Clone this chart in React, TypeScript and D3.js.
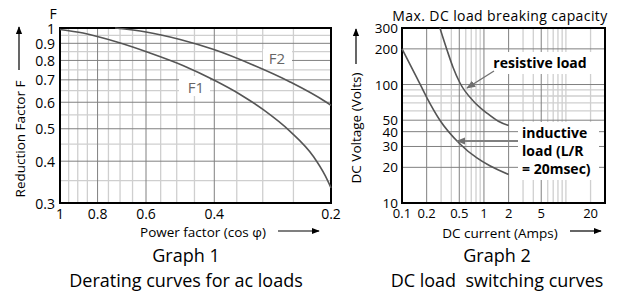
import * as d3 from "d3";
import React from "react";

// Graph 1: derating curves (power factor vs reduction factor)
const pfTicks = [1, 0.8, 0.6, 0.4, 0.2];
const pfMinor = [0.95, 0.9, 0.85, 0.75, 0.7, 0.65, 0.55, 0.5, 0.45, 0.35, 0.3, 0.25];
const fTicks = [0.3, 0.4, 0.5, 0.6, 0.7, 0.8, 0.9, 1];
const fMinor = [0.95, 0.85, 0.75, 0.65, 0.55, 0.45, 0.35];
const f1PF = [1, 0.872, 0.713, 0.586, 0.482, 0.401, 0.343, 0.299, 0.255, 0.222, 0.207, 0.2];
const f1Val = [0.99, 0.966, 0.908, 0.842, 0.773, 0.699, 0.633, 0.57, 0.491, 0.413, 0.362, 0.333];
const f2PF = [0.721, 0.6, 0.49, 0.401, 0.32, 0.255, 0.207, 0.2];
const f2Val = [1, 0.973, 0.924, 0.862, 0.778, 0.69, 0.603, 0.587];

// Graph 2: DC load breaking capacity
const ampTicks = [0.1, 0.2, 0.5, 1, 2, 5, 20];
const ampMajor = [0.2, 0.5, 1, 2, 5];
const ampMinor = [0.3, 0.4, 0.6, 0.7, 0.8, 0.9, 3, 4, 6, 7, 8, 9, 10, 20];
const voltTicks = [10, 20, 30, 40, 50, 100, 200, 300];
const voltMajor = [20, 30, 40, 50, 100, 200];
const voltMinor = [60, 70, 80, 90];
const resAmps = [0.29, 0.354, 0.419, 0.51, 0.75, 1.1, 1.5, 2];
const resVolts = [300, 196, 140, 103, 72, 57, 49, 45];
const indAmps = [0.1, 0.152, 0.2, 0.29, 0.51, 0.82, 1.18, 2];
const indVolts = [200, 114, 78, 50, 31.5, 24, 20.6, 17.4];

const font = "'Open Sans', 'Noto Sans', sans-serif";

export default function App() {
    // graph 1 frame
    const g1 = {left: 60, right: 331, top: 28, bottom: 203};
    const x1 = d3.scaleLog().domain([1, 0.2]).range([g1.left, g1.right]);
    const y1 = d3.scaleLog().domain([0.3, 1]).range([g1.bottom, g1.top]);

    // graph 2 frame
    const g2 = {left: 402, right: 605, top: 28, bottom: 203};
    const x2 = d3.scaleLog().domain([0.1, 30]).range([g2.left, g2.right]);
    const y2 = d3.scaleLog().domain([10, 300]).range([g2.bottom, g2.top]);

    // builds a smooth path from two parallel arrays
    const mk = (xs: number[], ys: number[], sx: any, sy: any) =>
        d3.line<[number, number]>()
            .x(d => sx(d[0]))
            .y(d => sy(d[1]))
            .curve(d3.curveMonotoneX)(xs.map((v, i) => [v, ys[i]]) as [number, number][]) || "";

    const minorC = "#cfcfcf";
    const majorC = "#808080";

    return (
        <svg width={623} height={291} style={{position: "absolute", left: 0, top: 0, background: "#fff"}}
             fontFamily={font}>
            <defs>
                <marker id="ah" viewBox="0 0 10 10" refX="9" refY="5" markerWidth="8" markerHeight="8"
                        orient="auto" markerUnits="userSpaceOnUse">
                    <path d="M0,1 L10,5 L0,9 Z" fill="#000"/>
                </marker>
                <marker id="ahg" viewBox="0 0 10 10" refX="9" refY="5" markerWidth="9" markerHeight="9"
                        orient="auto" markerUnits="userSpaceOnUse">
                    <path d="M0,1 L10,5 L0,9 Z" fill="#707070"/>
                </marker>
            </defs>

            {/* ---------- Graph 1 ---------- */}
            <g>
                {pfMinor.map(v => (
                    <line key={"pm" + v} x1={x1(v)} x2={x1(v)} y1={g1.top} y2={g1.bottom}
                          stroke={minorC} strokeWidth={1.3}/>
                ))}
                {fMinor.map(v => (
                    <line key={"fm" + v} x1={g1.left} x2={g1.right} y1={y1(v)} y2={y1(v)}
                          stroke={minorC} strokeWidth={1.3}/>
                ))}
                {pfTicks.slice(1, -1).map(v => (
                    <line key={"pM" + v} x1={x1(v)} x2={x1(v)} y1={g1.top} y2={g1.bottom}
                          stroke={majorC} strokeWidth={1}/>
                ))}
                {fTicks.slice(1, -1).map(v => (
                    <line key={"fM" + v} x1={g1.left} x2={g1.right} y1={y1(v)} y2={y1(v)}
                          stroke={majorC} strokeWidth={1}/>
                ))}
                <rect x={g1.left} y={g1.top} width={g1.right - g1.left} height={g1.bottom - g1.top}
                      fill="none" stroke="#000" strokeWidth={2}/>

                {/* curve labels with white boxes */}
                <rect x={179} y={76} width={31} height={20} fill="#fff"/>
                <text x={196} y={87} textAnchor="middle" dominantBaseline="central" fontSize={15}
                      fill="#666">F1</text>
                <rect x={263} y={49} width={29} height={19} fill="#fff"/>
                <text x={277} y={58} textAnchor="middle" dominantBaseline="central" fontSize={15}
                      fill="#666">F2</text>

                <path d={mk(f1PF, f1Val, x1, y1)} fill="none" stroke="#555" strokeWidth={1.6}/>
                <path d={mk(f2PF, f2Val, x1, y1)} fill="none" stroke="#555" strokeWidth={1.6}/>

                {fTicks.map(v => (
                    <text key={"ft" + v} x={55} y={y1(v)} textAnchor="end" dominantBaseline="central"
                          fontSize={14}>{v}</text>
                ))}
                {pfTicks.map(v => (
                    <text key={"pt" + v} x={x1(v)} y={213} textAnchor="middle" dominantBaseline="central"
                          fontSize={14}>{v}</text>
                ))}
                <text x={53} y={13} textAnchor="middle" dominantBaseline="central" fontSize={14}>F</text>

                <text transform="translate(20,139) rotate(-90)" textAnchor="middle" dominantBaseline="central"
                      fontSize={13.5}>Reduction Factor F</text>
                <line x1={19} y1={70} x2={19} y2={27} stroke="#000" strokeWidth={1.2} markerEnd="url(#ah)"/>

                <text x={203} y={232} textAnchor="middle" dominantBaseline="central" fontSize={13.5}>
                    Power factor (cos φ)</text>
                <line x1={278} y1={231} x2={319} y2={231} stroke="#000" strokeWidth={1.2} markerEnd="url(#ah)"/>

                <text x={186} y={255} textAnchor="middle" dominantBaseline="central" fontSize={18}>Graph 1</text>
                <text x={186} y={280} textAnchor="middle" dominantBaseline="central" fontSize={18}>
                    Derating curves for ac loads</text>
            </g>

            {/* ---------- Graph 2 ---------- */}
            <g>
                {ampMinor.map(v => (
                    <line key={"am" + v} x1={x2(v)} x2={x2(v)} y1={g2.top} y2={g2.bottom}
                          stroke={minorC} strokeWidth={1.3}/>
                ))}
                {voltMinor.map(v => (
                    <line key={"vm" + v} x1={g2.left} x2={g2.right} y1={y2(v)} y2={y2(v)}
                          stroke={minorC} strokeWidth={1.3}/>
                ))}
                {ampMajor.map(v => (
                    <line key={"aM" + v} x1={x2(v)} x2={x2(v)} y1={g2.top} y2={g2.bottom}
                          stroke={majorC} strokeWidth={1}/>
                ))}
                {voltMajor.map(v => (
                    <line key={"vM" + v} x1={g2.left} x2={g2.right} y1={y2(v)} y2={y2(v)}
                          stroke={majorC} strokeWidth={1}/>
                ))}

                {/* white boxes behind the annotations */}
                <rect x={490} y={52} width={102} height={22} fill="#fff"/>
                <rect x={518} y={122} width={81} height={58} fill="#fff"/>

                <rect x={g2.left} y={g2.top} width={g2.right - g2.left} height={g2.bottom - g2.top}
                      fill="none" stroke="#000" strokeWidth={2}/>

                <path d={mk(resAmps, resVolts, x2, y2)} fill="none" stroke="#555" strokeWidth={1.6}/>
                <path d={mk(indAmps, indVolts, x2, y2)} fill="none" stroke="#555" strokeWidth={1.6}/>

                <text x={540} y={62} textAnchor="middle" dominantBaseline="central" fontSize={14}
                      fontWeight="bold">resistive load</text>
                <line x1={494} y1={71} x2={467} y2={88} stroke="#707070" strokeWidth={1.3}
                      markerEnd="url(#ahg)"/>

                <text x={522} y={132} dominantBaseline="central" fontSize={14} fontWeight="bold">inductive</text>
                <text x={522} y={150} dominantBaseline="central" fontSize={14} fontWeight="bold">load (L/R</text>
                <text x={522} y={168} dominantBaseline="central" fontSize={14} fontWeight="bold">= 20msec)</text>
                <line x1={518} y1={141} x2={457} y2={141} stroke="#808080" strokeWidth={2.2}
                      markerEnd="url(#ahg)"/>

                {voltTicks.map(v => (
                    <text key={"vt" + v} x={398} y={y2(v)} textAnchor="end" dominantBaseline="central"
                          fontSize={13.5}>{v}</text>
                ))}
                {ampTicks.map(v => (
                    <text key={"at" + v} x={x2(v)} y={213} textAnchor="middle" dominantBaseline="central"
                          fontSize={13}>{v}</text>
                ))}

                <text x={500} y={15} textAnchor="middle" dominantBaseline="central" fontSize={14}
                      letterSpacing={0.4}>Max. DC load breaking capacity</text>

                <text transform="translate(356,128) rotate(-90)" textAnchor="middle" dominantBaseline="central"
                      fontSize={13.5}>DC Voltage (Volts)</text>
                <line x1={356} y1={64} x2={356} y2={29} stroke="#000" strokeWidth={1.2} markerEnd="url(#ah)"/>

                <text x={500} y={233} textAnchor="middle" dominantBaseline="central" fontSize={13.5}>
                    DC current (Amps)</text>
                <line x1={570} y1={231} x2={601} y2={231} stroke="#000" strokeWidth={1.2} markerEnd="url(#ah)"/>

                <text x={497} y={255} textAnchor="middle" dominantBaseline="central" fontSize={18}>Graph 2</text>
                <text x={497} y={280} textAnchor="middle" dominantBaseline="central" fontSize={18}
                      style={{whiteSpace: "pre"}}>DC load  switching curves</text>
            </g>
        </svg>
    );
}
